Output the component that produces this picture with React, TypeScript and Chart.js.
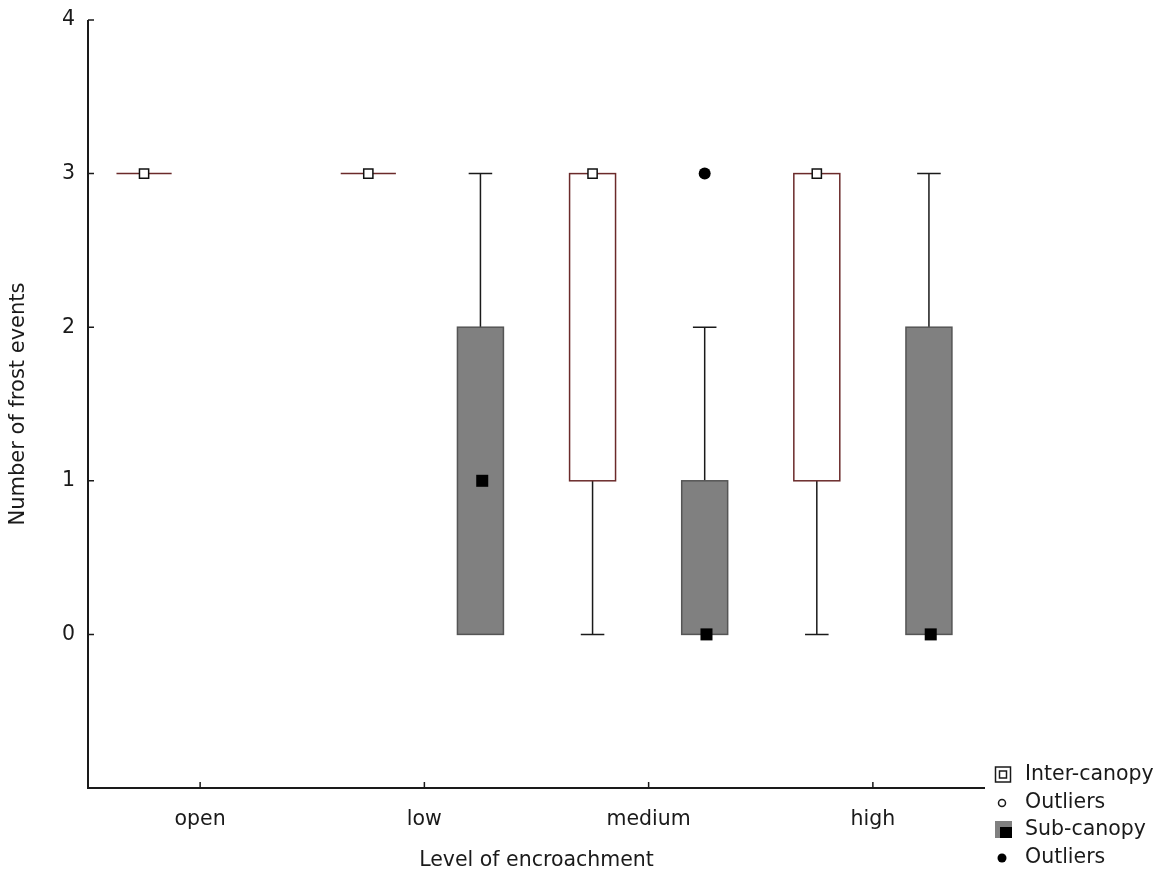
import React, { useEffect, useRef } from 'react';
import { Chart, registerables } from 'chart.js';

Chart.register(...registerables);

// ---- data ----
const categories = ['open', 'low', 'medium', 'high'];
const yTickValues = [0, 1, 2, 3, 4];

// Inter-canopy box statistics (per category)
const interWhiskerLow = [3, 3, 0, 0];
const interQ1 = [3, 3, 1, 1];
const interMedian = [3, 3, 3, 3];
const interQ3 = [3, 3, 3, 3];
const interWhiskerHigh = [3, 3, 3, 3];

// Sub-canopy box statistics (no sample for "open")
const subWhiskerLow = [null, 0, 0, 0];
const subQ1 = [null, 0, 0, 0];
const subMedian = [null, 1, 0, 0];
const subQ3 = [null, 2, 1, 2];
const subWhiskerHigh = [null, 3, 2, 3];
const subOutliers = [[], [], [3], []];

const legendLabels = ['Inter-canopy', 'Outliers', 'Sub-canopy', 'Outliers'];

// ---- styling / geometry (not data) ----
const GROUP_OFFSET = 0.25;
const BOX_W = 0.205;
const CAP_W = 0.105;
const FONT = '"DejaVu Sans", sans-serif';
const INK = '#1a1a1a';
const INTER_STROKE = '#6b2a2a';
const SUB_FILL = '#808080';
const SUB_STROKE = '#555555';

type Stats = {
  lo: (number | null)[];
  q1: (number | null)[];
  q3: (number | null)[];
  hi: (number | null)[];
  offset: number;
  fill: string;
  stroke: string;
};

const groups: Stats[] = [
  { lo: interWhiskerLow, q1: interQ1, q3: interQ3, hi: interWhiskerHigh, offset: -GROUP_OFFSET, fill: '#ffffff', stroke: INTER_STROKE },
  { lo: subWhiskerLow, q1: subQ1, q3: subQ3, hi: subWhiskerHigh, offset: GROUP_OFFSET, fill: SUB_FILL, stroke: SUB_STROKE },
];

const boxPlugin = {
  id: 'boxes',
  beforeDatasetsDraw(chart: any) {
    const { ctx, scales } = chart;
    const x = scales.x;
    const y = scales.y;
    const unit = x.getPixelForValue(1) - x.getPixelForValue(0);
    ctx.save();
    groups.forEach((g) => {
      categories.forEach((_, i) => {
        const q1 = g.q1[i];
        const q3 = g.q3[i];
        const lo = g.lo[i];
        const hi = g.hi[i];
        if (q1 == null || q3 == null || lo == null || hi == null) return;
        const cx = x.getPixelForValue(i + g.offset);
        const degenerate = q1 === q3;
        const half = (unit * BOX_W * (degenerate ? 1.2 : 1)) / 2;
        const capHalf = (unit * CAP_W) / 2;
        const pq1 = y.getPixelForValue(q1);
        const pq3 = y.getPixelForValue(q3);
        const plo = y.getPixelForValue(lo);
        const phi = y.getPixelForValue(hi);
        // whiskers
        ctx.strokeStyle = INK;
        ctx.lineWidth = 1.5;
        if (hi > q3) {
          ctx.beginPath();
          ctx.moveTo(cx, pq3);
          ctx.lineTo(cx, phi);
          ctx.moveTo(cx - capHalf, phi);
          ctx.lineTo(cx + capHalf, phi);
          ctx.stroke();
        }
        if (lo < q1) {
          ctx.beginPath();
          ctx.moveTo(cx, pq1);
          ctx.lineTo(cx, plo);
          ctx.moveTo(cx - capHalf, plo);
          ctx.lineTo(cx + capHalf, plo);
          ctx.stroke();
        }
        // box
        if (degenerate) {
          ctx.strokeStyle = INTER_STROKE;
          ctx.lineWidth = 1.5;
          ctx.beginPath();
          ctx.moveTo(cx - half, pq1);
          ctx.lineTo(cx + half, pq1);
          ctx.stroke();
        } else {
          ctx.fillStyle = g.fill;
          ctx.fillRect(cx - half, pq3, 2 * half, pq1 - pq3);
          ctx.strokeStyle = g.stroke;
          ctx.lineWidth = 1.5;
          ctx.strokeRect(cx - half, pq3, 2 * half, pq1 - pq3);
        }
      });
    });
    ctx.restore();
  },
  afterDraw(chart: any) {
    const { ctx, scales, chartArea } = chart;
    const x = scales.x;
    const y = scales.y;
    ctx.save();
    ctx.strokeStyle = INK;
    ctx.lineWidth = 2;
    // axis lines
    ctx.beginPath();
    ctx.moveTo(chartArea.left, chartArea.top);
    ctx.lineTo(chartArea.left, chartArea.bottom);
    ctx.lineTo(chartArea.right, chartArea.bottom);
    ctx.stroke();
    // inward ticks
    ctx.lineWidth = 1.5;
    ctx.beginPath();
    yTickValues.forEach((v) => {
      const py = y.getPixelForValue(v);
      ctx.moveTo(chartArea.left, py);
      ctx.lineTo(chartArea.left + 6, py);
    });
    categories.forEach((_, i) => {
      const px = x.getPixelForValue(i);
      ctx.moveTo(px, chartArea.bottom);
      ctx.lineTo(px, chartArea.bottom - 6);
    });
    ctx.stroke();

    // legend
    const lx = 995;
    const rows = [774, 802, 829, 857];
    ctx.font = `20.5px ${FONT}`;
    ctx.fillStyle = INK;
    ctx.textBaseline = 'middle';
    ctx.textAlign = 'left';
    legendLabels.forEach((t, k) => ctx.fillText(t, 1025, rows[k] + 1));
    // icon 1: double square
    ctx.strokeStyle = INK;
    ctx.lineWidth = 1.5;
    ctx.strokeRect(lx + 0.5, rows[0] - 7, 15, 15);
    ctx.strokeRect(lx + 4.5, rows[0] - 3, 7, 7);
    // icon 2: hollow circle
    ctx.beginPath();
    ctx.arc(lx + 7, rows[1] + 1, 3.5, 0, Math.PI * 2);
    ctx.stroke();
    // icon 3: gray square with black square
    ctx.fillStyle = SUB_FILL;
    ctx.fillRect(lx, rows[2] - 8, 17, 17);
    ctx.fillStyle = '#000';
    ctx.fillRect(lx + 5, rows[2] - 2, 12, 11);
    // icon 4: filled circle
    ctx.beginPath();
    ctx.arc(lx + 7, rows[3] + 1, 4.5, 0, Math.PI * 2);
    ctx.fill();
    ctx.restore();
  },
};

export default function App() {
  const canvasRef = useRef<HTMLCanvasElement | null>(null);

  useEffect(() => {
    if (!canvasRef.current) return;
    const interMedPts = interMedian.map((m, i) => ({ x: i - GROUP_OFFSET, y: m }));
    const subMedPts = subMedian
      .map((m, i) => (m == null ? null : { x: i + GROUP_OFFSET + 0.008, y: m }))
      .filter((p) => p !== null);
    const subOutPts: { x: number; y: number }[] = [];
    subOutliers.forEach((arr, i) => arr.forEach((v) => subOutPts.push({ x: i + GROUP_OFFSET, y: v })));

    const chart = new Chart(canvasRef.current, {
      type: 'scatter',
      data: {
        datasets: [
          {
            label: 'Inter-canopy median',
            data: interMedPts,
            pointStyle: 'rect',
            pointRadius: 6.5,
            pointBackgroundColor: '#ffffff',
            pointBorderColor: '#111111',
            pointBorderWidth: 1.5,
          },
          {
            label: 'Sub-canopy median',
            data: subMedPts as any,
            pointStyle: 'rect',
            pointRadius: 8.5,
            pointBackgroundColor: '#000000',
            pointBorderColor: '#000000',
            pointBorderWidth: 0,
          },
          {
            label: 'Sub-canopy outliers',
            data: subOutPts,
            pointStyle: 'circle',
            pointRadius: 6,
            pointBackgroundColor: '#000000',
            pointBorderColor: '#000000',
            pointBorderWidth: 0,
          },
        ],
      },
      options: {
        animation: false,
        responsive: false,
        devicePixelRatio: 1,
        layout: { padding: { top: 20, right: 181, left: 0, bottom: 0 } },
        plugins: { legend: { display: false }, tooltip: { enabled: false } },
        scales: {
          x: {
            type: 'linear',
            min: -0.5,
            max: 3.5,
            afterBuildTicks: (s: any) => {
              s.ticks = categories.map((_, i) => ({ value: i }));
            },
            afterFit: (s: any) => {
              s.height = 84;
              s.paddingLeft = 0;
              s.paddingRight = 0;
            },
            grid: { display: false, drawTicks: false },
            border: { display: false },
            ticks: {
              padding: 19,
              color: INK,
              font: { family: FONT, size: 20.5 },
              callback: (v: any) => categories[Math.round(Number(v))] ?? '',
            },
            title: {
              display: true,
              text: 'Level of encroachment',
              color: INK,
              font: { family: FONT, size: 20.5, lineHeight: 1 },
              padding: { top: 0, bottom: 1 },
            },
          },
          y: {
            type: 'linear',
            min: -1,
            max: 4,
            afterBuildTicks: (s: any) => {
              s.ticks = yTickValues.map((v) => ({ value: v }));
            },
            afterFit: (s: any) => {
              s.width = 88;
              s.paddingTop = 0;
              s.paddingBottom = 0;
            },
            grid: { display: false, drawTicks: false },
            border: { display: false },
            ticks: {
              padding: 13,
              color: INK,
              font: { family: FONT, size: 20.5 },
              callback: (v: any) => String(v),
            },
            title: {
              display: true,
              text: 'Number of frost events',
              color: INK,
              font: { family: FONT, size: 21, lineHeight: 1 },
              padding: { top: 8, bottom: 0 },
            },
          },
        },
      },
      plugins: [boxPlugin],
    });
    return () => chart.destroy();
  }, []);

  return (
    <div style={{ position: 'absolute', left: 0, top: 0, width: 1166, height: 872, background: '#ffffff' }}>
      <canvas ref={canvasRef} width={1166} height={872} style={{ display: 'block' }} />
    </div>
  );
}
